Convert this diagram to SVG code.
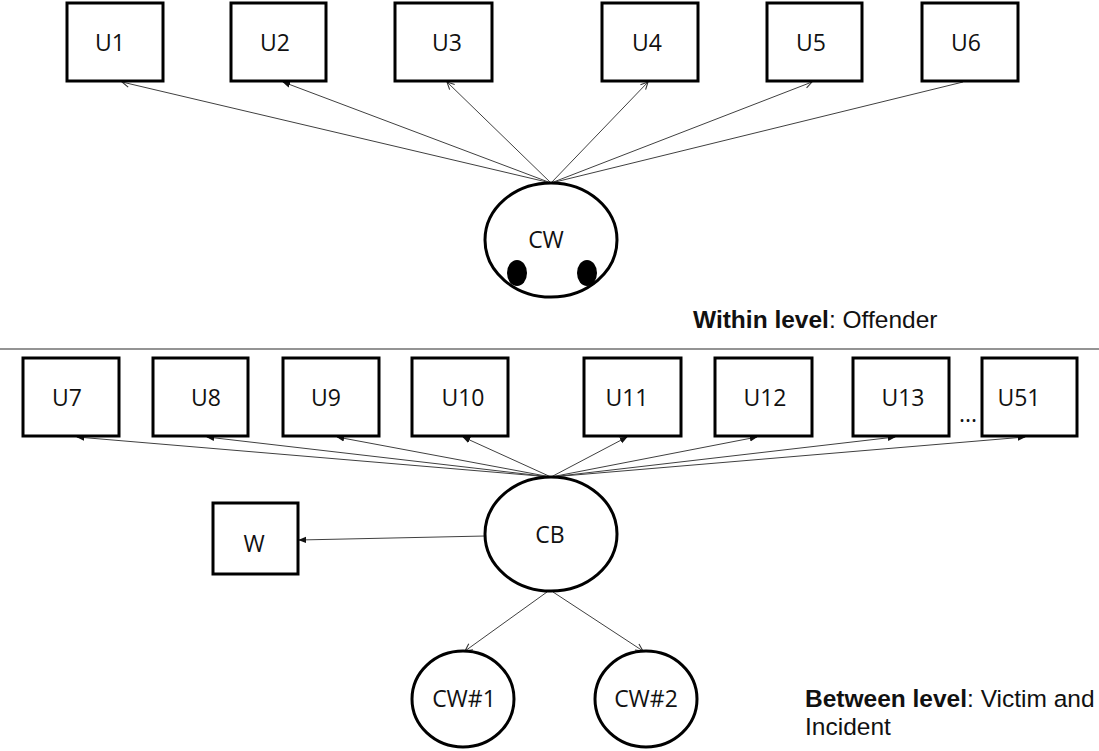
<svg xmlns="http://www.w3.org/2000/svg" width="1099" height="751" viewBox="0 0 1099 751">
<style>
.box{fill:#fff;stroke:#000;stroke-width:3}
.ell{fill:#fff;stroke:#000;stroke-width:3}
.lbl{font-family:"Open Sans","Liberation Sans",sans-serif;font-size:23px;fill:#111;text-anchor:middle}
.edge{stroke:#404040;stroke-width:1;fill:none}
.cap{font-family:"Liberation Sans",Arial,sans-serif;font-size:24.5px;fill:#111}
</style>
<defs>
<marker id="ao" viewBox="0 0 10 10" refX="9" refY="5" markerWidth="9" markerHeight="9" orient="auto" markerUnits="userSpaceOnUse">
<path d="M1,1 L9,5 L1,9" fill="none" stroke="#333" stroke-width="1.2"/>
</marker>
<marker id="af" viewBox="0 0 10 10" refX="9" refY="5" markerWidth="8" markerHeight="8" orient="auto" markerUnits="userSpaceOnUse">
<path d="M0,1 L10,5 L0,9 Z" fill="#111"/>
</marker>
</defs>
<g id="connectors">
<line class="edge" x1="551" y1="183" x2="122" y2="82" marker-end="url(#ao)"/>
<line class="edge" x1="551" y1="183" x2="283" y2="82" marker-end="url(#af)"/>
<line class="edge" x1="551" y1="183" x2="447" y2="82" marker-end="url(#ao)"/>
<line class="edge" x1="551" y1="183" x2="648" y2="82" marker-end="url(#ao)"/>
<line class="edge" x1="551" y1="183" x2="812" y2="82" marker-end="url(#ao)"/>
<line class="edge" x1="551" y1="183" x2="963" y2="82"/>
<line class="edge" x1="551" y1="477" x2="77" y2="437" marker-end="url(#af)"/>
<line class="edge" x1="551" y1="477" x2="207" y2="437" marker-end="url(#af)"/>
<line class="edge" x1="551" y1="477" x2="337" y2="437" marker-end="url(#af)"/>
<line class="edge" x1="551" y1="477" x2="463" y2="437" marker-end="url(#af)"/>
<line class="edge" x1="551" y1="477" x2="627" y2="437" marker-end="url(#af)"/>
<line class="edge" x1="551" y1="477" x2="757" y2="437" marker-end="url(#af)"/>
<line class="edge" x1="551" y1="477" x2="895" y2="437" marker-end="url(#af)"/>
<line class="edge" x1="551" y1="477" x2="1025" y2="437" marker-end="url(#af)"/>
<line class="edge" x1="485" y1="536" x2="299" y2="540" marker-end="url(#af)"/>
<line class="edge" x1="547" y1="592" x2="465" y2="651" marker-end="url(#ao)"/>
<line class="edge" x1="553" y1="592" x2="643" y2="651" marker-end="url(#ao)"/>
</g>
<line id="separator" x1="0" y1="349" x2="1099" y2="349" stroke="#707070" stroke-width="1.5"/>
<g id="U1"><rect class="box" x="67" y="3" width="96" height="78"/><text class="lbl" x="110" y="51">U1</text></g>
<g id="U2"><rect class="box" x="231" y="3" width="95" height="78"/><text class="lbl" x="275" y="51">U2</text></g>
<g id="U3"><rect class="box" x="395" y="3" width="97" height="78"/><text class="lbl" x="447" y="51">U3</text></g>
<g id="U4"><rect class="box" x="602" y="3" width="96" height="78"/><text class="lbl" x="647" y="51">U4</text></g>
<g id="U5"><rect class="box" x="767" y="3" width="95" height="78"/><text class="lbl" x="811" y="51">U5</text></g>
<g id="U6"><rect class="box" x="922" y="3" width="96" height="78"/><text class="lbl" x="966" y="51">U6</text></g>
<g id="CW">
<ellipse class="ell" cx="551" cy="240" rx="66" ry="57"/>
<ellipse cx="517" cy="273" rx="10" ry="13" fill="#000"/>
<ellipse cx="587" cy="273" rx="10" ry="13" fill="#000"/>
<text class="lbl" x="546" y="248">CW</text>
</g>
<text class="cap" x="693" y="328"><tspan font-weight="bold">Within level</tspan>: Offender</text>
<g id="U7"><rect class="box" x="23" y="358" width="96" height="78"/><text class="lbl" x="67" y="406">U7</text></g>
<g id="U8"><rect class="box" x="153" y="358" width="95" height="78"/><text class="lbl" x="206" y="406">U8</text></g>
<g id="U9"><rect class="box" x="283" y="358" width="96" height="78"/><text class="lbl" x="326" y="406">U9</text></g>
<g id="U10"><rect class="box" x="412" y="358" width="96" height="78"/><text class="lbl" x="463" y="406">U10</text></g>
<g id="U11"><rect class="box" x="584" y="358" width="97" height="78"/><text class="lbl" x="627" y="406">U11</text></g>
<g id="U12"><rect class="box" x="715" y="358" width="97" height="78"/><text class="lbl" x="765" y="406">U12</text></g>
<g id="U13"><rect class="box" x="853" y="358" width="96" height="78"/><text class="lbl" x="903" y="406">U13</text></g>
<text class="lbl" x="968" y="422">...</text>
<g id="U51"><rect class="box" x="982" y="358" width="95" height="78"/><text class="lbl" x="1019" y="406">U51</text></g>
<g id="CB"><ellipse class="ell" cx="551" cy="534" rx="66" ry="57"/><text class="lbl" x="550" y="543">CB</text></g>
<g id="W"><rect class="box" x="213" y="503" width="85" height="71"/><text class="lbl" x="254" y="552">W</text></g>
<g id="CW1"><ellipse class="ell" cx="463" cy="699" rx="51" ry="48"/><text class="lbl" x="464" y="707">CW#1</text></g>
<g id="CW2"><ellipse class="ell" cx="646" cy="699" rx="51" ry="48"/><text class="lbl" x="646" y="707">CW#2</text></g>
<text class="cap" x="805" y="707"><tspan font-weight="bold">Between level</tspan>: Victim and</text>
<text class="cap" x="805" y="735">Incident</text>
</svg>
